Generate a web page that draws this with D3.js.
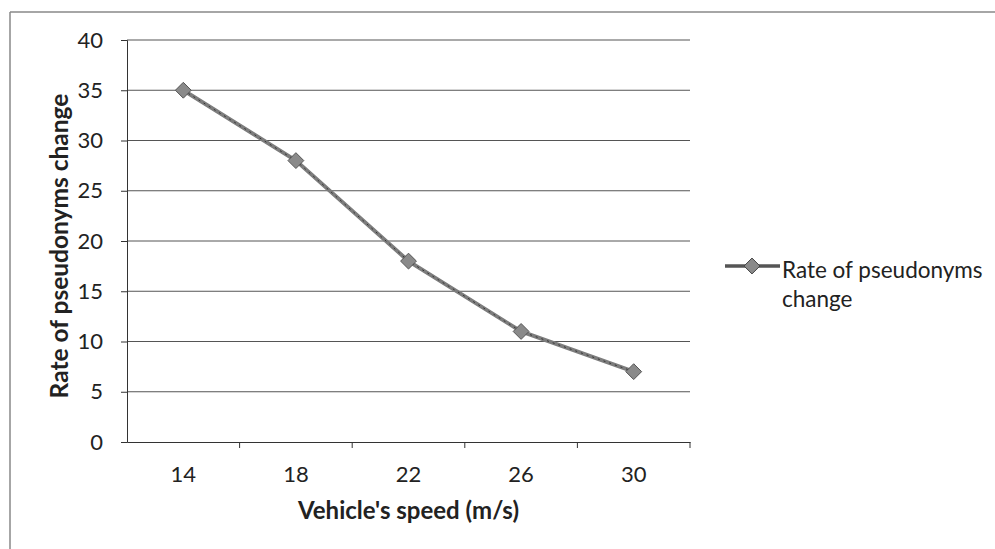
<!DOCTYPE html>
<html>
<head>
<meta charset="utf-8">
<script src="https://cdn.jsdelivr.net/npm/d3@7"></script>
<style>
  body { margin: 0; background: #fff; }
  text { font-family: Lato, "Open Sans", sans-serif; fill: #222; }
</style>
</head>
<body>
<div id="chart"></div>
<script>
const speeds = ["14", "18", "22", "26", "30"];
const rates = [35, 28, 18, 11, 7];
const yTicks = [0, 5, 10, 15, 20, 25, 30, 35, 40];
const seriesName = "Rate of pseudonyms change";

const W = 995, H = 549;
const MARGIN = {TOP: 40, LEFT: 127, RIGHT: 305, BOTTOM: 107};
const WIDTH = W - MARGIN.LEFT - MARGIN.RIGHT;
const HEIGHT = H - MARGIN.TOP - MARGIN.BOTTOM;

const svg = d3.select("#chart").append("svg")
    .attr("width", W)
    .attr("height", H);

// outer chart border (only top and left visible in the scan)
svg.append("line").attr("x1", 10).attr("x2", W).attr("y1", 12).attr("y2", 12)
    .attr("stroke", "#888").attr("stroke-width", 1.5);
svg.append("line").attr("x1", 10).attr("x2", 10).attr("y1", 12).attr("y2", H)
    .attr("stroke", "#888").attr("stroke-width", 1.5);

const g = svg.append("g")
    .attr("transform", `translate(${MARGIN.LEFT}, ${MARGIN.TOP})`);

const x = d3.scaleBand().domain(speeds).range([0, WIDTH]);
const y = d3.scaleLinear().domain([0, 40]).range([HEIGHT, 0]);

// gridlines
g.selectAll(".grid").data(yTicks.filter(d => d > 0)).enter()
    .append("line")
    .attr("x1", 0).attr("x2", WIDTH)
    .attr("y1", d => y(d)).attr("y2", d => y(d))
    .attr("stroke", "#555").attr("stroke-width", 1);

// y axis
const yAxis = g.append("g")
    .call(d3.axisLeft(y).tickValues(yTicks).tickSize(6).tickPadding(18));
yAxis.select(".domain").attr("stroke", "#333");
yAxis.selectAll(".tick line").attr("stroke", "#333");
yAxis.selectAll("text").attr("font-size", 22).style("font-family", "Lato, sans-serif").attr("fill", "#222");

// x axis, ticks between categories
const xAxis = g.append("g").attr("transform", `translate(0, ${HEIGHT})`)
    .call(d3.axisBottom(x).tickSize(0).tickPadding(24));
xAxis.select(".domain").attr("stroke", "#333");
xAxis.selectAll("text").attr("font-size", 22).style("font-family", "Lato, sans-serif").attr("fill", "#222");
g.selectAll(".xtick").data(speeds).enter()
    .append("line")
    .attr("x1", d => x(d) + x.bandwidth()).attr("x2", d => x(d) + x.bandwidth())
    .attr("y1", HEIGHT).attr("y2", HEIGHT + 6)
    .attr("stroke", "#333");

// series
const cx = d => x(d) + x.bandwidth() / 2;
const line = d3.line().x((d, i) => cx(speeds[i])).y(d => y(d));
g.append("path").datum(rates)
    .attr("d", line)
    .attr("fill", "none")
    .attr("stroke", "#7d7d7d")
    .attr("stroke-width", 4);
g.append("path").datum(rates)
    .attr("d", line)
    .attr("fill", "none")
    .attr("stroke", "#333")
    .attr("stroke-width", 1)
    .attr("stroke-dasharray", "2,4");

const diamond = d3.symbol().type(d3.symbolDiamond2).size(160);
g.selectAll(".marker").data(rates).enter()
    .append("path")
    .attr("d", diamond)
    .attr("transform", (d, i) => `translate(${cx(speeds[i])}, ${y(d)})`)
    .attr("fill", "#8a8a8a")
    .attr("stroke", "#555")
    .attr("stroke-width", 1);

// axis titles
svg.append("text")
    .attr("x", MARGIN.LEFT + WIDTH / 2)
    .attr("y", 519)
    .attr("text-anchor", "middle")
    .attr("font-size", 24)
    .attr("font-weight", "bold")
    .text("Vehicle's speed (m/s)");
svg.append("text")
    .attr("transform", "translate(68, 246) rotate(-90)")
    .attr("text-anchor", "middle")
    .attr("font-size", 24.5)
    .attr("font-weight", "bold")
    .text(seriesName);

// legend
const lg = svg.append("g").attr("transform", "translate(725, 266)");
lg.append("line").attr("x1", 0).attr("x2", 55).attr("y1", 0).attr("y2", 0)
    .attr("stroke", "#555").attr("stroke-width", 3.5);
lg.append("path").attr("d", diamond)
    .attr("transform", "translate(27, 0)")
    .attr("fill", "#8a8a8a").attr("stroke", "#444");
const lt = lg.append("text").attr("x", 57).attr("y", 12).attr("font-size", 22.5);
lt.append("tspan").attr("x", 57).text("Rate of pseudonyms");
lt.append("tspan").attr("x", 57).attr("dy", 29).text("change");
</script>
</body>
</html>
